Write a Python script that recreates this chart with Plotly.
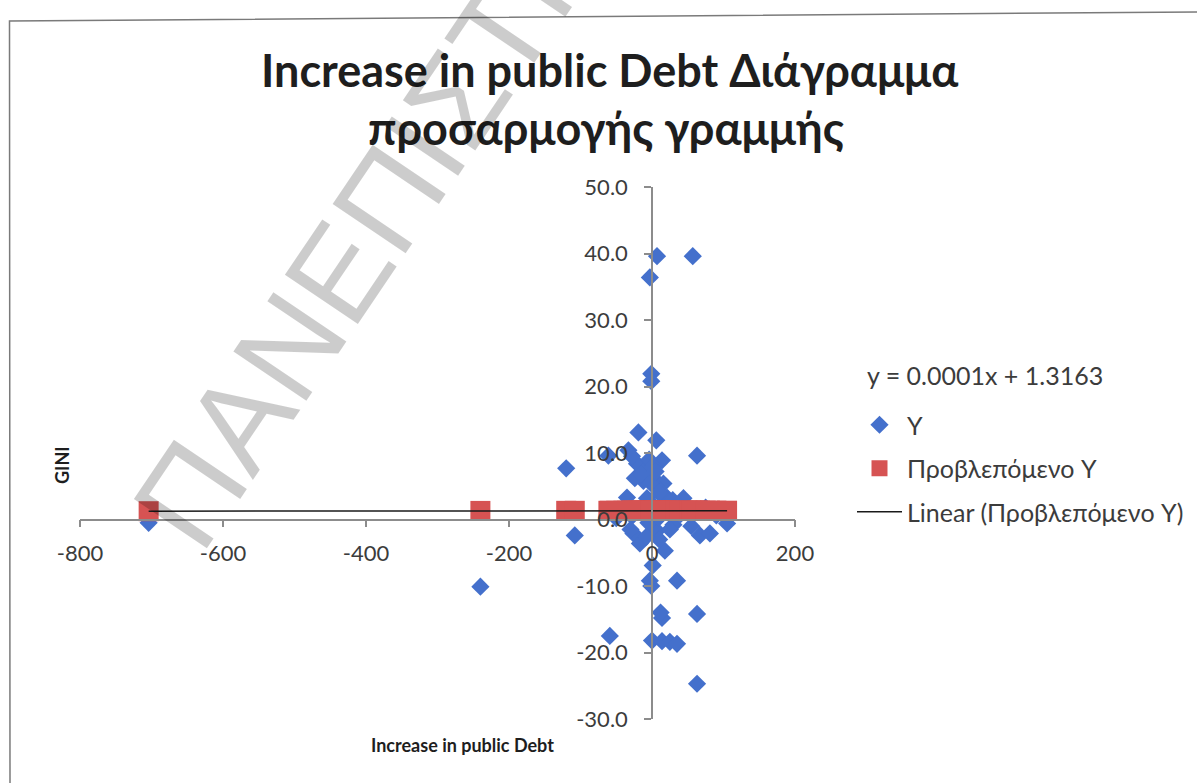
import plotly.graph_objects as go

# Observations: increase in public debt (x) against change in GINI (y)
debt_increase = [
    -704, -240, -120, -108, -61, -19, 7, -3, 57, -1, -1, 6, 63,
    -33, -21, -10, 1, 14, 16, 7, 21, -35, -7, 44, 29,
    -26, -17, 7, 18, 1, -3, -1, 35, 67, 81, 105, 14, 12, 63,
    -59, 0, 14, 25, 35, 63,
    -40, -28, -15, -5, 3, 10, 20, 30, 40, 50, 55, -50,
    -12, -4, 2, -24, 10, -8, 25, 90, 75,
    -28, -15, -2, 10, 5, -30,
]
gini_change = [
    -0.5, -10.1, 7.7, -2.4, 9.6, 13.1, 39.6, 36.4, 39.6, 21.9, 20.8, 11.9, 9.6,
    10.4, 8.4, 7.4, 6.3, 8.9, 5.4, 4.8, 3.3, 3.3, 3.2, 3.2, 2.9,
    -2.1, -3.6, -1.7, -4.7, -6.9, -9.2, -10.0, -9.2, -2.4, -2.1, -0.6, -14.8, -14.0, -14.2,
    -17.5, -18.2, -18.3, -18.4, -18.7, -24.7,
    1.5, 0.5, 1.0, -0.5, 2.0, 0.3, 1.2, -0.8, 0.8, 1.6, -1.0, 0.2,
    5.8, 9.0, 8.0, 6.2, -3.0, -2.6, -1.5, 0.6, 1.8,
    9.5, 6.8, 5.5, 4.0, 7.2, -1.5,
]

# Fitted regression line, as printed on the chart
SLOPE = 0.0001
INTERCEPT = 1.3163
predicted_y = [INTERCEPT + SLOPE * x for x in debt_increase]

x_tick_vals = [-800, -600, -400, -200, 0, 200]
x_tick_text = ["-800", "-600", "-400", "-200", "0", "200"]
y_tick_vals = [-30, -20, -10, 0, 10, 20, 30, 40, 50]
y_tick_text = ["-30.0", "-20.0", "-10.0", "0.0", "10.0", "20.0", "30.0", "40.0", "50.0"]
x_range = [-800, 200]
y_range = [-30, 50]

W, H = 1197, 783
ML, MR, MT, MB = 80, 402, 187, 64
PW, PH = W - ML - MR, H - MT - MB

FONT = "Lato, 'Noto Sans', sans-serif"
TEXT = "#3c3c3c"
AXIS = "#8c8c8c"
BLUE = "#4470cc"
RED = "#d65353"


def paper(px, py):
    return (px - ML) / PW, (H - MB - py) / PH


fig = go.Figure()
fig.add_trace(go.Scatter(
    x=debt_increase, y=gini_change, mode="markers", name="Y",
    legendgroup="a",
    marker=dict(symbol="diamond", size=14, color=BLUE),
))
fig.add_trace(go.Scatter(
    x=debt_increase, y=predicted_y, mode="markers", name="Προβλεπόμενο Y",
    legendgroup="b",
    marker=dict(symbol="square", size=20, color=RED),
))
x_lo, x_hi = min(debt_increase), max(debt_increase)
fig.add_trace(go.Scatter(
    x=[x_lo, x_hi], y=[INTERCEPT + SLOPE * x_lo, INTERCEPT + SLOPE * x_hi],
    mode="lines", name="Linear (Προβλεπόμενο Y)", legendgroup="c",
    line=dict(color="#1a1a1a", width=1.5),
))

# axes cross at the origin
x_pos = (0 - y_range[0]) / (y_range[1] - y_range[0])
y_pos = (0 - x_range[0]) / (x_range[1] - x_range[0])

axis_common = dict(
    showgrid=False, zeroline=False, showline=True, linecolor=AXIS, linewidth=1.5,
    ticks="outside", ticklen=7, tickcolor=AXIS, tickwidth=1.5,
    tickfont=dict(family=FONT, size=22, color=TEXT), anchor="free",
)
fig.update_xaxes(range=x_range, tickvals=x_tick_vals, ticktext=x_tick_text,
                 position=x_pos, ticklabelstandoff=7, **axis_common)
fig.update_yaxes(range=y_range, tickvals=y_tick_vals, ticktext=y_tick_text,
                 position=y_pos, ticklabelstandoff=12, **axis_common)


def label(px, py, text, size, color, family=FONT, angle=0):
    x, y = paper(px, py)
    return dict(x=x, y=y, xref="paper", yref="paper", showarrow=False,
                xanchor="center", yanchor="middle", text=text, textangle=angle,
                font=dict(family=family, size=size, color=color))


ann = [
    label(609, 70, "<b>Increase in public Debt Διάγραμμα</b>", 45, "#1e1e1e"),
    label(606, 128, "<b>προσαρμογής γραμμής</b>", 45, "#1e1e1e"),
    label(462, 745, "<b>Increase in public Debt</b>", 18, "#1e1e1e"),
    label(62, 465, "<b>GINI</b>", 18, "#1e1e1e", angle=-90),
    label(985, 375, f"y = {SLOPE:.4f}x + {INTERCEPT:.4f}", 25, TEXT),
    label(436, 128, "ΠΑΝΕΠΙΣΤΗΜΙΟ", 128, "rgba(0,0,0,0.2)",
          family="Liberation Sans, Arial, sans-serif", angle=-56),
]

# chart frame
x0, y0 = paper(10, 783)
x1, y1 = paper(9.5, 21)
x2, y2 = paper(1197, 12)
shapes = [dict(type="path", xref="paper", yref="paper",
               path=f"M {x0},{y0} L {x1},{y1} L {x2},{y2}",
               line=dict(color="#7a7a7a", width=1.5))]

lx, ly = paper(852, 402)
fig.update_layout(
    width=W, height=H,
    margin=dict(l=ML, r=MR, t=MT, b=MB, autoexpand=False),
    paper_bgcolor="white", plot_bgcolor="white",
    annotations=ann, shapes=shapes,
    showlegend=True,
    legend=dict(x=lx, y=ly, xanchor="left", yanchor="top",
                font=dict(family=FONT, size=25, color=TEXT),
                itemwidth=45, tracegroupgap=8, bgcolor="rgba(0,0,0,0)"),
)

fig.write_html("out.html")
